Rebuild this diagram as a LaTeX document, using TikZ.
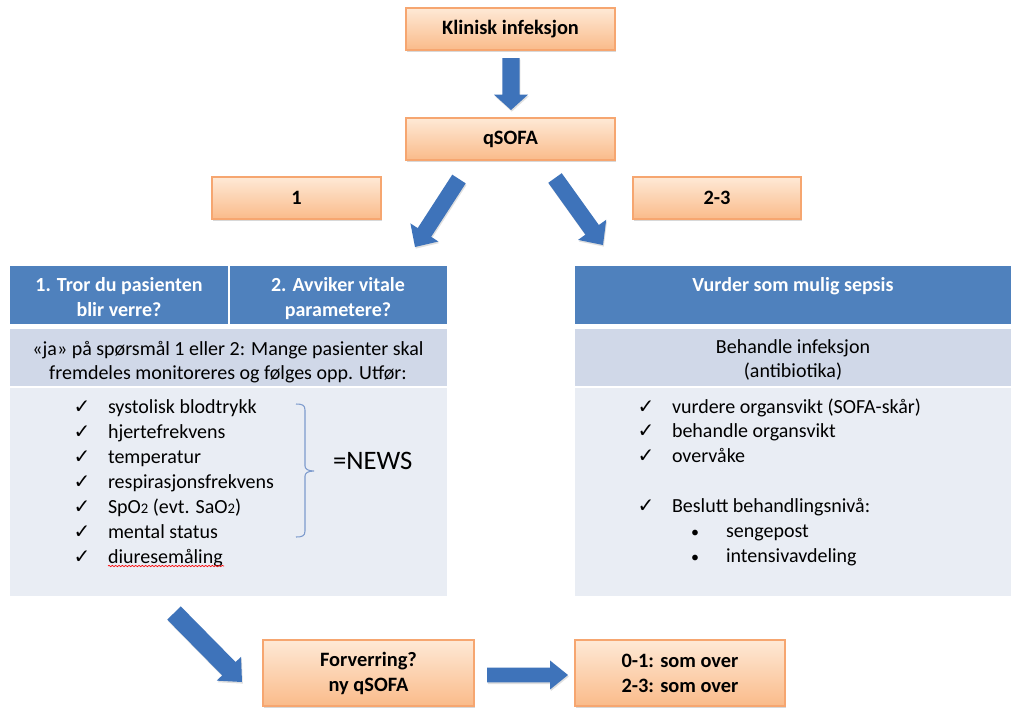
\documentclass[tikz,border=0pt]{standalone}
\usepackage{fontspec}
\setmainfont{Carlito}
\newfontfamily\chkfont{DejaVu Sans}
\usetikzlibrary{calc,shadows,decorations.pathmorphing}
\definecolor{obord}{RGB}{246,166,112}
\definecolor{otop}{RGB}{254,233,214}
\definecolor{obot}{RGB}{250,187,138}
\definecolor{hdrblue}{RGB}{79,129,189}
\definecolor{rowa}{RGB}{208,216,232}
\definecolor{rowb}{RGB}{233,237,244}
\definecolor{arrblue}{RGB}{62,115,186}
\definecolor{bracecol}{RGB}{125,155,205}
\newcommand\subtwo{{\fontsize{11}{11}\selectfont 2}}
% block arrow: tail, tip, half shaft, half head, head length
\newcommand\blockarr[5]{%
  \coordinate (bah) at ($(#2)!#5!(#1)$);
  \fill[arr] ($(#1)!#3!90:(#2)$) -- ($(bah)!#3!-90:(#1)$) -- ($(bah)!#4!-90:(#1)$) -- (#2)
    -- ($(bah)!#4!90:(#1)$) -- ($(bah)!#3!90:(#1)$) -- ($(#1)!#3!-90:(#2)$) -- cycle;}
\begin{document}
\begin{tikzpicture}[x=0.75pt,y=-0.75pt,
  every node/.style={font=\fontsize{15}{18.75}\selectfont, inner sep=0pt, outer sep=0pt},
  obox/.style={draw=obord, line width=0.8pt, top color=otop, bottom color=obot,
    anchor=north west, align=center, font=\bfseries\fontsize{15.3}{18.75}\selectfont,
    drop shadow={shadow xshift=0.6pt, shadow yshift=-1.5pt, opacity=0.3}},
  cell/.style={anchor=north west},
  hdr/.style={text=white, font=\bfseries\fontsize{15}{18.75}\selectfont, anchor=base},
  txt/.style={anchor=base},
  itm/.style={anchor=base west},
  chk/.style={anchor=base, font=\chkfont\fontsize{15}{15}\selectfont},
  bul/.style={anchor=base, font=\fontsize{12}{12}\selectfont},
  arr/.style={fill=arrblue, drop shadow={shadow xshift=0.6pt, shadow yshift=-1.2pt, opacity=0.25}}
]
\useasboundingbox[fill=white] (0,0) rectangle (1024,722);

% orange boxes
\node[obox, minimum width=156.75pt, minimum height=31.5pt] (klin) at (406,8) {Klinisk infeksjon};
\node[obox, minimum width=156.75pt, minimum height=31.5pt] (qsofa) at (406,118) {qSOFA};
\node[obox, minimum width=126.75pt, minimum height=31.5pt] (one) at (212,177) {1};
\node[obox, minimum width=126pt, minimum height=31.5pt] (twothree) at (633,177) {2-3};
\node[obox, minimum width=158.25pt, minimum height=49.5pt] (forv) at (263,640) {Forverring?\\ny qSOFA};
\node[obox, minimum width=157.5pt, minimum height=49.5pt] (res) at (575,640) {0-1: som over\\2-3: som over};

% left table
\node[cell, fill=hdrblue, minimum width=163.5pt, minimum height=43.5pt] (lh1) at (10,266) {};
\node[cell, fill=hdrblue, minimum width=162.75pt, minimum height=43.5pt] (lh2) at (230,266) {};
\node[cell, fill=rowa, minimum width=327.75pt, minimum height=42.75pt] (lr2) at (10,329) {};
\node[cell, fill=rowb, minimum width=327.75pt, minimum height=156pt] (lr3) at (10,388) {};
% right table
\node[cell, fill=hdrblue, minimum width=327pt, minimum height=43.5pt] (rh) at (575,266) {};
\node[cell, fill=rowa, minimum width=327pt, minimum height=42.75pt] (rr2) at (575,329) {};
\node[cell, fill=rowb, minimum width=327pt, minimum height=156pt] (rr3) at (575,388) {};

% header texts
\node[hdr] (lh1a) at (119,291) {1. Tror du pasienten};
\node[hdr] (lh1b) at (119,316) {blir verre?};
\node[hdr] (lh2a) at (338,291) {2. Avviker vitale};
\node[hdr] (lh2b) at (338,316) {parametere?};
\node[hdr] (rha) at (793,291) {Vurder som mulig sepsis};

% row 2 texts
\node[txt] (lr2a) at (228,355) {«ja» på spørsmål 1 eller 2: Mange pasienter skal};
\node[txt] (lr2b) at (228,379) {fremdeles monitoreres og følges opp. Utfør:};
\node[txt] (rr2a) at (793,353) {Behandle infeksjon};
\node[txt] (rr2b) at (793,377) {(antibiotika)};

% left list
\foreach \t [count=\i from 0] in {systolisk blodtrykk, hjertefrekvens, temperatur,
  respirasjonsfrekvens, {SpO\subtwo{} (evt. SaO\subtwo)}, mental status, diuresemåling} {
  \node[chk] (lc\i) at (82,{413+25*\i}) {✓};
  \node[itm] (lt\i) at (108,{413+25*\i}) {\t};
}
\draw[red, line width=0.5pt, decorate, decoration={snake, amplitude=0.5pt, segment length=2.5pt}]
  (lt6.base west) ++(0,3) coordinate (wv1) -- (224,566) coordinate (wv2);
\draw[bracecol, line width=0.8pt] (296,404) .. controls (302,404) and (305,405) .. (305,410)
  -- (305,466) .. controls (305,469) and (308,471) .. (314,471)
  .. controls (308,471) and (305,473) .. (305,476)
  -- (305,531) .. controls (305,536) and (302,537) .. (296,537);
\node[anchor=base west, font=\fontsize{20}{24}\selectfont] (news) at (333,469) {=NEWS};

% right list
\foreach \yy/\t [count=\i] in {413/vurdere organsvikt (SOFA-skår), 437/behandle organsvikt,
  462/overvåke, 512/Beslutt behandlingsnivå:} {
  \node[chk] (rc\i) at (646,\yy) {✓};
  \node[itm] (rt\i) at (672,\yy) {\t};
}
\foreach \yy/\t [count=\i] in {537/sengepost, 562/intensivavdeling} {
  \node[bul] (rb\i) at (695,\yy) {•};
  \node[itm] (rbt\i) at (726,\yy) {\t};
}

% block arrows
\coordinate (a1t) at (511,58);  \coordinate (a1p) at (511,110);
\coordinate (a2t) at (459,179); \coordinate (a2p) at (415,247);
\coordinate (a3t) at (555,178); \coordinate (a3p) at (603,245);
\coordinate (a4t) at (174,613); \coordinate (a4p) at (242,682);
\coordinate (a5t) at (487,675); \coordinate (a5p) at (568,675);
\blockarr{a1t}{a1p}{6.4pt}{12.75pt}{11.5pt}
\blockarr{a2t}{a2p}{6pt}{12.5pt}{13pt}
\blockarr{a3t}{a3p}{6.2pt}{13pt}{14pt}
\blockarr{a4t}{a4p}{7.1pt}{12.75pt}{14pt}
\blockarr{a5t}{a5p}{5.6pt}{10.9pt}{13.5pt}
\end{tikzpicture}
\end{document}
